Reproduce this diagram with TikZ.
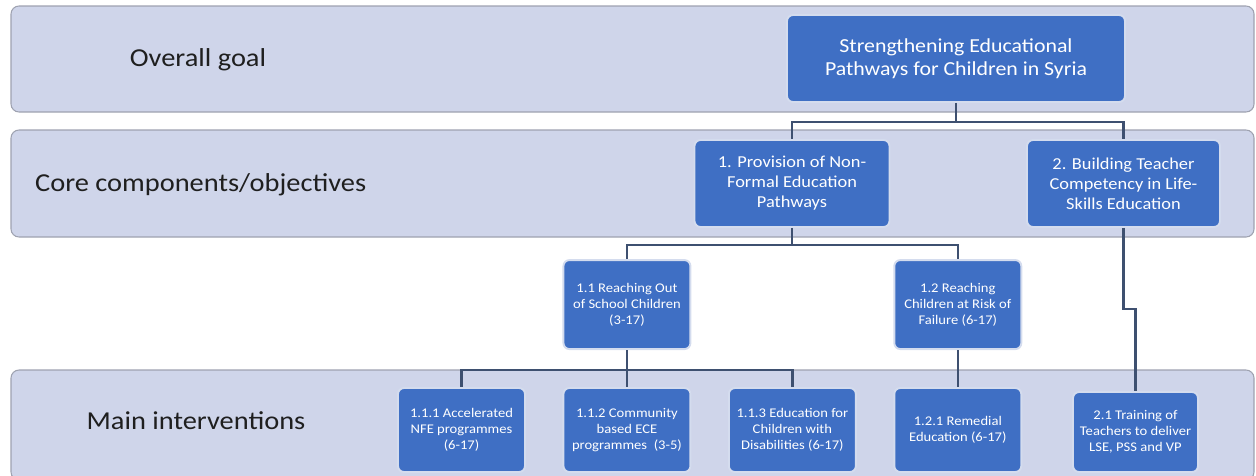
\documentclass[tikz,border=0pt]{standalone}
\usepackage{fontspec}
\setmainfont[FakeStretch=1.1]{Carlito}
\usetikzlibrary{positioning}
\definecolor{bandfill}{RGB}{207,213,234}
\definecolor{bandline}{RGB}{158,162,176}
\definecolor{boxblue}{RGB}{63,111,196}
\definecolor{boxline}{RGB}{212,220,238}
\definecolor{linkcol}{RGB}{62,80,112}

\begin{document}
\begin{tikzpicture}[x=0.2mm,y=-0.2mm]

% used shapes
\tikzstyle{band} = [draw=bandline, fill=bandfill, rounded corners=1.6mm, line width=0.6pt]
\tikzstyle{rowlabel} = [text=black!88, font=\fontsize{14.7}{17}\selectfont]
\tikzstyle{goalbox} = [rectangle, draw=boxline, fill=boxblue, rounded corners=1.2mm, line width=1.1pt, text=white, align=center, minimum width=67.6mm, minimum height=17.4mm, font=\fontsize{11.3}{13.2}\selectfont]
\tikzstyle{corebox} = [rectangle, draw=boxline, fill=boxblue, rounded corners=1.2mm, line width=1.1pt, text=white, align=center, minimum width=39mm, minimum height=17.4mm, font=\fontsize{9.5}{11.4}\selectfont]
\tikzstyle{blokje} = [rectangle, draw=boxline, fill=boxblue, rounded corners=1.2mm, line width=1.1pt, text=white, align=center, inner sep=1pt, minimum width=25.4mm, minimum height=16.8mm, node distance=7.3mm, font=\fontsize{7.55}{9.1}\selectfont]
\tikzstyle{link} = [draw=linkcol, line width=1.3pt]

\useasboundingbox (0,0) rectangle (1256,475);

% rows
\draw[band] (11,6) rectangle (1254,112);
\draw[band] (11,130) rectangle (1254,237);
\draw[band] (11,370) rectangle (1254,480);

\node[rowlabel] (lgoal) at (198,60) {Overall goal};
\node[rowlabel, anchor=west] (lcore) at (29,185) {Core components/objectives};
\node[rowlabel] (lmain) at (196,421) {Main interventions};

% boxes
\node[goalbox] (goal) at (956,58.5) {Strengthening Educational\\Pathways for Children in Syria};

\node[corebox] (nfe) at (792,183.5) {1. Provision of Non-\\Formal Education\\Pathways};
\node[corebox, minimum width=38.6mm] (teach) at (1123.5,183.5) {2. Building Teacher\\Competency in Life-\\Skills Education};

\node[blokje] (acc) at (461.5,430) {1.1.1 Accelerated\\NFE programmes\\(6-17)};
\node[blokje, right = of acc] (ece) {1.1.2 Community\\based ECE\\programmes~~(3-5)};
\node[blokje, right = of ece] (dis) {1.1.3 Education for\\Children with\\Disabilities (6-17)};
\node[blokje, right = of dis] (rem) {1.2.1 Remedial\\Education (6-17)};
\node[blokje, minimum width=25mm, minimum height=16mm] (train) at (1135.5,432) {2.1 Training of\\Teachers to deliver\\LSE, PSS and VP};

\node[blokje, minimum height=17.8mm, above = 7.4mm of ece] (oos) {1.1 Reaching Out\\of School Children\\(3-17)};
\node[blokje, minimum height=17.8mm, above = 7.4mm of rem] (risk) {1.2 Reaching\\Children at Risk of\\Failure (6-17)};

% connectors
\coordinate (j1) at (956,122);
\coordinate (j2) at (792,245);
\coordinate (j3) at (oos.south |- 0,370);
\coordinate (kink) at (1135.5,309);

\draw[link] (goal.south) -- (j1) -| (nfe.north);
\draw[link] (j1) -| (teach.north);
\draw[link] (nfe.south) -- (j2) -| (oos.north);
\draw[link] (j2) -| (risk.north);
\draw[link] (oos.south) -- (j3) -| (acc.north);
\draw[link] (j3) -| (dis.north);
\draw[link] (j3) -- (ece.north);
\draw[link] (risk.south) -- (rem.north);
\draw[link] (teach.south) |- (kink) -- (train.north);

\end{tikzpicture}
\end{document}
